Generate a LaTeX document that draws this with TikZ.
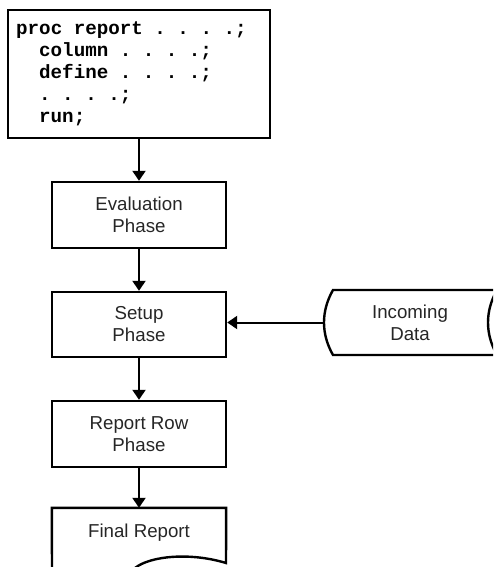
\documentclass[tikz,border=0pt]{standalone}
\usepackage{fontspec}
\setmainfont{Liberation Sans}
\newfontfamily\codefont{Liberation Mono}
\usetikzlibrary{arrows.meta}

\begin{document}
\begin{tikzpicture}[x=1pt,y=-1pt,
  outline/.style={draw, line width=2.4pt, line join=miter},
  stepbox/.style={outline, minimum width=174pt, minimum height=66pt, inner sep=0pt,
    align=center, text=black!85, font=\fontsize{18.7}{22}\selectfont},
  labeltext/.style={inner sep=0pt, align=center, text=black!85, font=\fontsize{18.7}{22}\selectfont},
  codeline/.style={anchor=base west, inner sep=0pt,
    font=\codefont\bfseries\fontsize{19.2}{22}\selectfont\frenchspacing},
  flow/.style={line width=2pt, -{Triangle[length=10pt,width=13pt]}}]

\useasboundingbox (0,0) rectangle (493,567);
\clip (0,0) rectangle (493,567);

% source program box
\node[outline, minimum width=262pt, minimum height=128pt, inner sep=0pt] (code) at (139,74) {};
\node[codeline] (c1) at (16,35)  {proc report . . . .;};
\node[codeline] (c2) at (39,57)  {column . . . .;};
\node[codeline] (c3) at (39,79)  {define . . . .;};
\node[codeline] (c4) at (39,101) {. . . .;};
\node[codeline] (c5) at (39,123) {run;};

% processing phases
\node[stepbox] (eval) at (139,215) {Evaluation\\Phase};
\node[stepbox, minimum height=65pt] (setup) at (139,324.5) {Setup\\Phase};
\node[stepbox] (report) at (139,434) {Report Row\\Phase};

% output document
\node[labeltext, minimum width=174pt, minimum height=50pt] (final) at (139,533) {Final Report};
\draw[outline] (final.north east) -- (final.north west) -- (52,570)
  .. controls (75,580) and (115,580) .. (135,568)
  .. controls (150,556) and (190,552) .. (226,563) -- cycle;

% stored data
\node[labeltext, minimum width=173pt, minimum height=65pt] (data) at (410,322.5) {Incoming\\Data};
\draw[outline] (333,290) -- (497,290)
  .. controls (485,311) and (485,334) .. (497,355) -- (333,355)
  .. controls (321,334) and (321,311) .. (333,290) -- cycle;

% connectors
\draw[flow] (code.south) -- (eval.north);
\draw[flow] (eval.south) -- (setup.north);
\draw[flow] (setup.south) -- (report.north);
\draw[flow] (report.south) -- (final.north);
\draw[flow] (data.west) -- (data.west -| setup.east);
\end{tikzpicture}
\end{document}
